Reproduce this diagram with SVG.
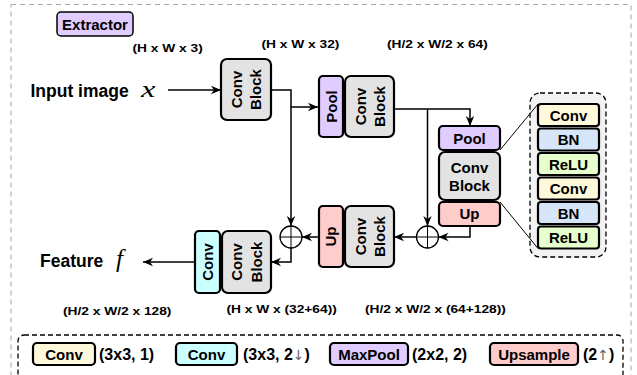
<svg xmlns="http://www.w3.org/2000/svg" width="637" height="375" viewBox="0 0 637 375">
  <defs>
    <marker id="arr" viewBox="0 0 10 10" refX="10" refY="5" markerWidth="10" markerHeight="10" orient="auto" markerUnits="userSpaceOnUse">
      <path d="M0,0.8 L10,5 L0,9.2 L3,5 z" fill="#000"/>
    </marker>
    <style>
      text { font-family: "Liberation Sans", Arial, Helvetica, sans-serif; font-weight: bold; fill: #000; }
      .box { stroke: #000; stroke-width: 2.2; }
      .gray { fill: #e3e3e3; }
      .pool { fill: #e1ccff; }
      .up { fill: #ffcccc; }
      .cyan { fill: #ccffff; }
      .yel { fill: #fff9dc; }
      .bn { fill: #d7e5f8; }
      .relu { fill: #e6ffcc; }
      .lbl { font-size: 15px; text-anchor: middle; }
      .dim { font-size: 11px; }
      .leg { font-size: 16px; }
      .arw { font-family: "DejaVu Sans", sans-serif; font-weight: normal; fill: #666; font-size: 14px; }
      .wire { fill: none; stroke: #000; stroke-width: 1.5; }
      .thin { fill: none; stroke: #000; stroke-width: 1; }
      .math { font-family: "Liberation Serif", "Times New Roman", serif; font-style: italic; font-weight: normal; }
    </style>
  </defs>

  <!-- outer frame -->
  <rect x="11" y="4.5" width="620" height="385" fill="none" stroke="#a6a6a6" stroke-width="1" stroke-dasharray="5 4"/>

  <!-- title tag -->
  <g id="extractor">
    <rect x="57" y="12" width="76" height="24" rx="4" class="pool" stroke="#000" stroke-width="1.5"/>
    <text x="95" y="29.5" class="lbl">Extractor</text>
  </g>

  <!-- tensor shape annotations -->
  <g id="shapes">
    <text class="dim" transform="translate(132.5,52) scale(1.25,1)">(H x W x 3)</text>
    <text class="dim" transform="translate(261.5,48) scale(1.25,1)">(H x W x 32)</text>
    <text class="dim" transform="translate(387,48) scale(1.25,1)">(H/2 x W/2 x 64)</text>
    <text class="dim" transform="translate(63,314.5) scale(1.25,1)">(H/2 x W/2 x 128)</text>
    <text class="dim" transform="translate(226.5,313) scale(1.25,1)">(H x W x (32+64))</text>
    <text class="dim" transform="translate(365,313) scale(1.25,1)">(H/2 x W/2 x (64+128))</text>
  </g>

  <!-- input / output labels -->
  <g id="input">
    <text x="30.5" y="96.5" font-size="17.5">Input image</text>
    <text class="math" font-size="24" transform="translate(141,96.5) scale(1.35,1)">x</text>
  </g>
  <g id="feature">
    <text x="40" y="267" font-size="17.5">Feature</text>
    <text class="math" x="116" y="267" font-size="25">f</text>
  </g>

  <!-- encoder level 1 -->
  <g id="conv-block-1">
    <rect x="221" y="59" width="50" height="61" rx="6" class="box gray"/>
    <g transform="translate(246,89.5) rotate(-90)">
      <text class="lbl" x="0" y="-4.3">Conv</text>
      <text class="lbl" x="0" y="15">Block</text>
    </g>
  </g>

  <!-- encoder level 2 -->
  <g id="pool-conv-block-2">
    <rect x="319" y="76" width="24" height="61" rx="4" class="box pool"/>
    <text class="lbl" transform="translate(331,106.5) rotate(-90)" y="5.5">Pool</text>
    <rect x="345" y="76" width="49" height="61" rx="6" class="box gray"/>
    <g transform="translate(369.5,106.5) rotate(-90)">
      <text class="lbl" x="0" y="-3.8">Conv</text>
      <text class="lbl" x="0" y="15">Block</text>
    </g>
  </g>

  <!-- bottleneck -->
  <g id="pool-conv-up-3">
    <rect x="439" y="126" width="61" height="24" rx="4" class="box pool"/>
    <text class="lbl" x="469.5" y="143.5">Pool</text>
    <rect x="439" y="152" width="61" height="48" rx="6" class="box gray"/>
    <text class="lbl" x="469.5" y="172.5">Conv</text>
    <text class="lbl" x="469.5" y="191">Block</text>
    <rect x="439" y="202" width="61" height="24" rx="4" class="box up"/>
    <text class="lbl" x="469.5" y="219">Up</text>
  </g>

  <!-- decoder level 2 -->
  <g id="up-conv-block-4">
    <rect x="319" y="206" width="24" height="61" rx="4" class="box up"/>
    <text class="lbl" transform="translate(331,236.5) rotate(-90)" y="4.5">Up</text>
    <rect x="345" y="206" width="49" height="61" rx="6" class="box gray"/>
    <g transform="translate(369.5,236.5) rotate(-90)">
      <text class="lbl" x="0" y="-3.8">Conv</text>
      <text class="lbl" x="0" y="15">Block</text>
    </g>
  </g>

  <!-- decoder level 1 -->
  <g id="conv-block-5">
    <rect x="195" y="231" width="25" height="62" rx="4" class="box cyan"/>
    <text class="lbl" transform="translate(207.5,262) rotate(-90)" y="5.5">Conv</text>
    <rect x="222" y="231" width="49" height="62" rx="6" class="box gray"/>
    <g transform="translate(246.5,262) rotate(-90)">
      <text class="lbl" x="0" y="-4.5">Conv</text>
      <text class="lbl" x="0" y="15">Block</text>
    </g>
  </g>

  <!-- skip-connection adders -->
  <g id="add-1">
    <circle cx="427.5" cy="237" r="11" fill="#fff" stroke="#000" stroke-width="1.3"/>
    <path d="M416.5,237 H438.5 M427.5,226 V248" class="thin" stroke-width="1.3"/>
  </g>
  <g id="add-2">
    <circle cx="291" cy="237" r="11" fill="#fff" stroke="#000" stroke-width="1.3"/>
    <path d="M280,237 H302 M291,226 V248" class="thin" stroke-width="1.3"/>
  </g>

  <!-- conv block internals -->
  <g id="conv-block-detail">
    <rect x="530" y="93" width="76" height="164" rx="10" fill="#f2f2f2" stroke="#000" stroke-width="1.3" stroke-dasharray="5 3"/>
    <rect x="538" y="104" width="61" height="22" rx="3" class="box yel"/>
    <text class="lbl" x="568.5" y="120.5">Conv</text>
    <rect x="538" y="128.5" width="61" height="22" rx="3" class="box bn"/>
    <text class="lbl" x="568.5" y="145">BN</text>
    <rect x="538" y="153" width="61" height="22" rx="3" class="box relu"/>
    <text class="lbl" x="568.5" y="169.5">ReLU</text>
    <rect x="538" y="177.5" width="61" height="22" rx="3" class="box yel"/>
    <text class="lbl" x="568.5" y="194">Conv</text>
    <rect x="538" y="202" width="61" height="22" rx="3" class="box bn"/>
    <text class="lbl" x="568.5" y="218.5">BN</text>
    <rect x="538" y="226.5" width="61" height="22" rx="3" class="box relu"/>
    <text class="lbl" x="568.5" y="243">ReLU</text>
  </g>

  <!-- connectors -->
  <g id="connectors">
    <path d="M168,90 H221" class="wire" marker-end="url(#arr)"/>
    <path d="M271,90 H291 V107 H318" class="wire" marker-end="url(#arr)"/>
    <path d="M291,107 V226" class="wire" marker-end="url(#arr)"/>
    <path d="M394,109 H470 V126" class="wire" marker-end="url(#arr)"/>
    <path d="M427.5,109 V226" class="wire" marker-end="url(#arr)"/>
    <path d="M470,226 V237 H438.5" class="wire" marker-end="url(#arr)"/>
    <path d="M416.5,237 H394" class="wire" marker-end="url(#arr)"/>
    <path d="M319,237 H302" class="wire" marker-end="url(#arr)"/>
    <path d="M291,248 V262 H271" class="wire" marker-end="url(#arr)"/>
    <path d="M195,262 H143" class="wire" marker-end="url(#arr)"/>
    <path d="M500,150 L538,104" class="thin"/>
    <path d="M500,202 L538,248.5" class="thin"/>
  </g>

  <!-- legend -->
  <g id="legend">
    <rect x="18" y="335" width="605" height="50" rx="6" fill="none" stroke="#000" stroke-width="1.3" stroke-dasharray="5 3"/>
    <rect x="33" y="343" width="62" height="22" rx="4" class="box yel"/>
    <text class="lbl" x="64" y="360">Conv</text>
    <text class="leg" x="99" y="360">(3x3, 1)</text>
    <rect x="176" y="343" width="61" height="22" rx="4" class="box cyan"/>
    <text class="lbl" x="206.5" y="360">Conv</text>
    <text class="leg" x="243" y="360">(3x3, 2<tspan class="arw">↓</tspan>)</text>
    <rect x="330" y="343" width="78" height="22" rx="4" class="box pool"/>
    <text class="lbl" x="369" y="360">MaxPool</text>
    <text class="leg" x="412" y="360">(2x2, 2)</text>
    <rect x="490" y="343" width="88" height="22" rx="4" class="box up"/>
    <text class="lbl" x="534" y="360">Upsample</text>
    <text class="leg" x="583" y="360">(2<tspan class="arw">↑</tspan>)</text>
  </g>
</svg>
